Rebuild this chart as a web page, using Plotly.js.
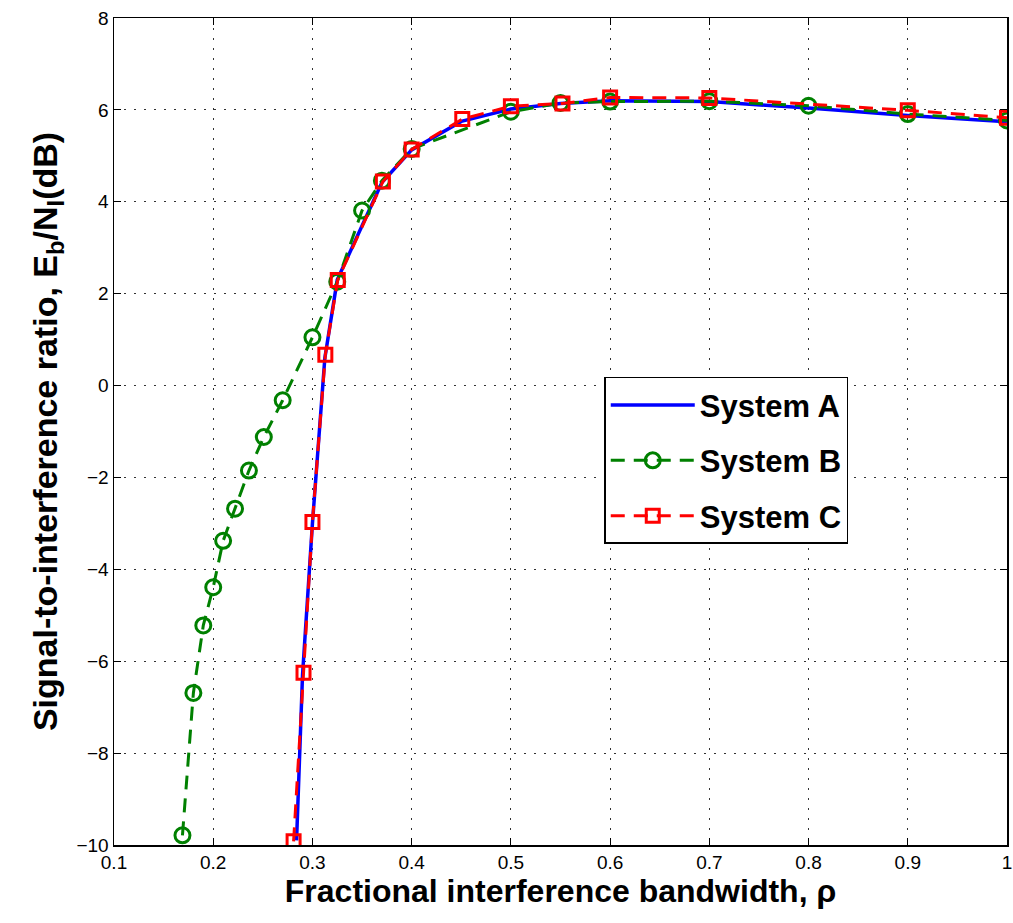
<!DOCTYPE html>
<html><head><meta charset="utf-8">
<script src="https://cdn.plot.ly/plotly-3.0.1.min.js"></script>
<style>html,body{margin:0;padding:0;background:#fff}</style>
</head><body><div id="chart" style="width:1013px;height:923px"></div>
<script>
const seriesNames = ["System A", "System B", "System C"];

const rhoA = [0.284, 0.29, 0.3, 0.3125, 0.325, 0.37, 0.4, 0.45, 0.5, 0.55, 0.6, 0.7, 0.8, 0.9, 1.0];
const ebniA = [-9.9, -6.3, -3.0, 0.6, 2.3, 4.42, 5.13, 5.75, 6.02, 6.14, 6.2, 6.18, 6.04, 5.88, 5.74];

const rhoB = [0.169, 0.18, 0.19, 0.2, 0.21, 0.222, 0.236, 0.251, 0.27, 0.3, 0.325, 0.35, 0.37, 0.4, 0.5, 0.55, 0.6, 0.7, 0.8, 0.9, 1.0];
const ebniB = [-9.79, -6.69, -5.22, -4.39, -3.38, -2.68, -1.85, -1.12, -0.32, 1.05, 2.26, 3.81, 4.46, 5.15, 5.96, 6.15, 6.18, 6.19, 6.09, 5.91, 5.77];

const rhoC = [0.281, 0.291, 0.3, 0.313, 0.3255, 0.371, 0.4, 0.451, 0.5, 0.552, 0.6, 0.7, 0.9, 1.0];
const ebniC = [-9.92, -6.25, -2.97, 0.67, 2.3, 4.44, 5.14, 5.8, 6.08, 6.14, 6.27, 6.26, 5.99, 5.83];

const xTicks = [0.1, 0.2, 0.3, 0.4, 0.5, 0.6, 0.7, 0.8, 0.9, 1];
const yTicks = [-10, -8, -6, -4, -2, 0, 2, 4, 6, 8];

const traces = [
  {x: rhoA, y: ebniA, name: seriesNames[0], legendgroup: "a", mode: "lines",
   line: {color: "#0000ff", width: 3.5}},
  {x: rhoB, y: ebniB, name: seriesNames[1], legendgroup: "b", mode: "lines+markers",
   line: {color: "#008000", width: 3, dash: "14px,9px"},
   marker: {symbol: "circle-open", size: 15, color: "#008000", line: {width: 3, color: "#008000"}}},
  {x: rhoC, y: ebniC, name: seriesNames[2], legendgroup: "c", mode: "lines+markers",
   line: {color: "#ff0000", width: 3, dash: "14px,9px"},
   marker: {symbol: "square-open", size: 13, color: "#ff0000", line: {width: 3, color: "#ff0000"}}}
];

const tickFont = {family: "Liberation Sans, Arial, sans-serif", size: 19, color: "#000"};
const titleFont = {family: "Liberation Sans, Arial, sans-serif", size: 32, color: "#000", weight: "bold"};

const layout = {
  width: 1013, height: 923,
  margin: {l: 114, r: 6, t: 18, b: 78},
  paper_bgcolor: "#fff", plot_bgcolor: "#fff",
  showlegend: true,
  legend: {x: 0.549, y: 0.566, xanchor: "left", yanchor: "top",
    bgcolor: "#fff", bordercolor: "#000", borderwidth: 1.5,
    font: {family: "Liberation Sans, Arial, sans-serif", size: 31, color: "#000", weight: "bold"},
    itemwidth: 84, tracegroupgap: 12},
  xaxis: {range: [0.1, 1.0], tickvals: xTicks, ticktext: xTicks.map(String),
    showgrid: true, gridcolor: "#333", griddash: "2px,8px", gridwidth: 1,
    zeroline: false, showline: true, linecolor: "#000", linewidth: 1.5, mirror: "ticks",
    ticks: "inside", ticklen: 7, tickcolor: "#000", tickfont: tickFont,
    title: {text: "Fractional interference bandwidth, ρ", font: titleFont, standoff: 4}},
  yaxis: {range: [-10, 8], tickvals: yTicks,
    showgrid: true, gridcolor: "#333", griddash: "2px,8px", gridwidth: 1,
    zeroline: false, showline: true, linecolor: "#000", linewidth: 1.5, mirror: "ticks",
    ticks: "inside", ticklen: 7, tickcolor: "#000", tickfont: tickFont,
    title: {text: "Signal-to-interference ratio, E<sub>b</sub>/N<sub>I</sub>(dB)",
      font: Object.assign({}, titleFont, {size: 34}), standoff: 8}}
};

Plotly.newPlot("chart", traces, layout, {displayModeBar: false, staticPlot: true});
</script>
</body></html>
